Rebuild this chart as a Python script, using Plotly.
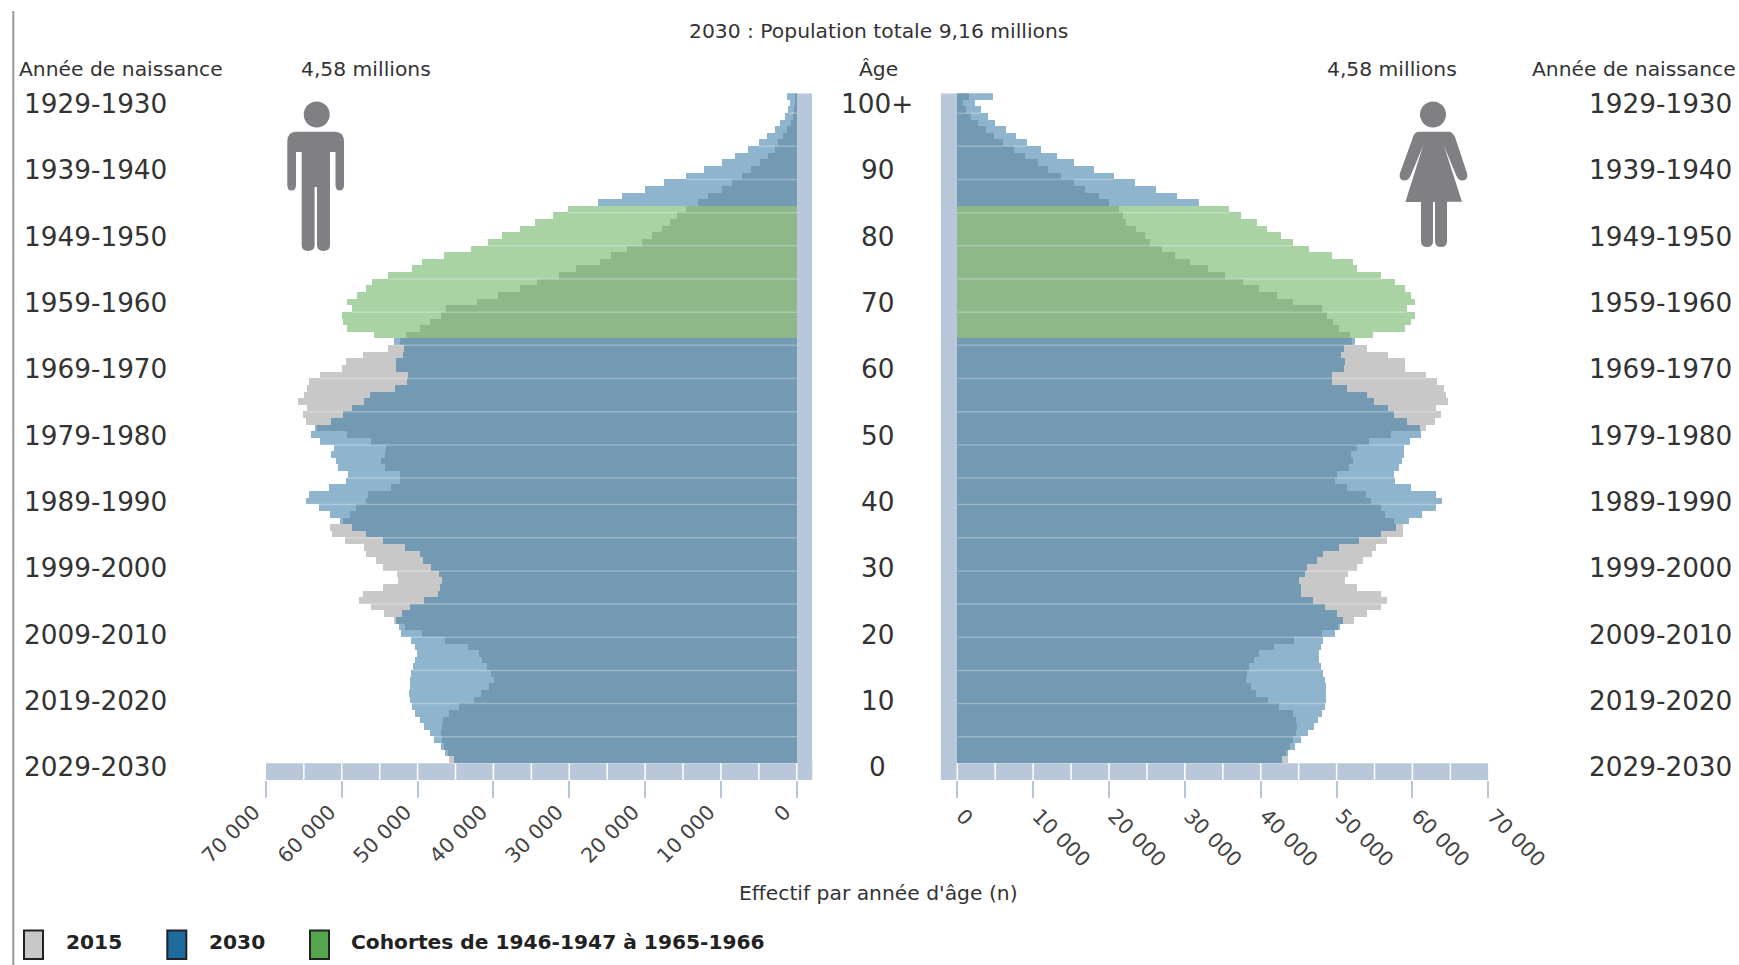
import plotly.graph_objects as go

W, H = 1739, 965

# index = position from the bottom of the pyramid (age in 2030), 0 .. 100
men_2030 = [45170, 46340, 46980, 47800, 48440, 49170, 49760, 50390, 50730, 50980,
            51120, 51070, 51020, 50830, 50630, 50340, 50050, 50390, 50880, 52200,
            52440, 52830, 52100, 51020, 49170, 47320, 47120, 46730, 47220, 48200,
            49270, 49760, 51710, 54540, 56830, 58680, 60240, 61610, 63020, 64780,
            64290, 61710, 59420, 59170, 60490, 60780, 61460, 60980, 62930, 64050,
            63560, 61370, 59900, 58680, 57070, 56240, 52980, 51370, 51220, 52830,
            52830, 51950, 51760, 53070, 55710, 59320, 59800, 60000, 58680, 59270,
            57950, 56780, 56000, 53850, 50730, 49410, 46490, 42980, 40780, 38930,
            36490, 34540, 32100, 30150, 26240, 23070, 20000, 17560, 14630, 12290,
            9900, 8200, 6490, 4980, 3900, 2930, 2240, 1610, 1120, 880, 1270]
men_2015 = [45900, 46000, 46490, 46730, 46880, 46830, 46630, 45850, 44540, 42580,
            41610, 40630, 40000, 40290, 40880, 41460, 41950, 43320, 46340, 49410,
            51610, 53170, 54440, 56150, 57710, 57220, 54630, 52590, 52680, 54630,
            55510, 56830, 57070, 59610, 61270, 61510, 59900, 58930, 58100, 56880,
            56490, 53560, 52340, 52340, 54290, 54780, 54290, 54190, 56100, 59320,
            63320, 64780, 65170, 64540, 65760, 65020, 64540, 64390, 62830, 60000,
            59510, 57170, 53950, 52340, 51510, 49660, 48440, 46980, 46240, 42240,
            39410, 36490, 34290, 31320, 29170, 26000, 24540, 22340, 20490, 19170,
            17850, 16730, 15760, 14630, 13070, 11710, 9900, 8590, 7220, 6000,
            4880, 3800, 2930, 2440, 1850, 1370, 780, 490, 390, 240, 150]
women_2030 = [42770, 43660, 44550, 45360, 46180, 47060, 47540, 48080, 48420, 48560,
              48630, 48560, 48420, 48220, 47950, 47740, 47670, 47950, 48220, 49780,
              50460, 50780, 50050, 48490, 46880, 45270, 45270, 45020, 45850, 46050,
              47370, 48190, 50290, 52970, 55900, 57850, 59610, 61270, 63070, 63850,
              63070, 59800, 57750, 57610, 58240, 58580, 58930, 58830, 59710, 61170,
              61020, 59220, 57610, 56730, 54930, 54050, 51410, 49460, 49460, 50930,
              51120, 50540, 51020, 52390, 54780, 59070, 59800, 60290, 59220, 60390,
              59800, 59070, 57710, 55900, 52730, 52100, 49410, 46390, 44190, 42730,
              40780, 39460, 37370, 35810, 31860, 28980, 26250, 23470, 20640, 18010,
              15320, 13080, 11030, 9180, 7720, 6400, 5030, 4060, 3080, 2350, 4690]
women_2015 = [43530, 43320, 43870, 44210, 44680, 44820, 44680, 44210, 42440, 40940,
              39380, 38700, 38080, 38220, 38430, 39110, 39790, 41760, 44340, 48080,
              50200, 52240, 53950, 55800, 56630, 55900, 52730, 51120, 51510, 52730,
              53460, 54680, 55170, 56630, 58730, 58730, 57610, 56390, 55900, 54540,
              53850, 51410, 49850, 50050, 51660, 52140, 51900, 52730, 54290, 57120,
              61750, 62970, 63800, 63070, 64680, 64440, 64190, 63220, 61850, 59070,
              59070, 56730, 53950, 52000, 51760, 50290, 49560, 48680, 48100, 44290,
              42100, 39810, 37610, 35320, 33080, 30690, 28690, 26980, 25420, 24690,
              23610, 22250, 21860, 21370, 20050, 18740, 16790, 15420, 13710, 12010,
              10640, 8930, 7420, 6010, 4790, 3720, 2740, 1860, 1180, 790, 1520]

cohort_first, cohort_last = 64, 83
age_labels = ["0", "10", "20", "30", "40", "50", "60", "70", "80", "90", "100+"]
age_positions = [0, 10, 20, 30, 40, 50, 60, 70, 80, 90, 100]
birth_labels = ["2029-2030", "2019-2020", "2009-2010", "1999-2000", "1989-1990", "1979-1980",
                "1969-1970", "1959-1960", "1949-1950", "1939-1940", "1929-1930"]
tick_values = [0, 10000, 20000, 30000, 40000, 50000, 60000, 70000]
tick_labels = ["0", "10 000", "20 000", "30 000", "40 000", "50 000", "60 000", "70 000"]
rule_positions = [3.5, 8.5, 13.5, 18.5, 23.5, 28.5, 33.5, 38.5, 42.5, 47.5,
                  52.5, 57.5, 62.5, 67.5, 72.5, 77.5, 82.5, 87.5, 92.5, 97.5]

GREY = "#C8C8C8"
BLUE = "rgba(31,106,158,0.5)"
GREEN = "rgba(84,165,76,0.5)"
BAND = "#B9C7DA"
ICON = "#7F7F84"
TEXT = "#333333"
FONT = "DejaVu Sans"

ages = list(range(len(men_2030)))
colours_2030 = [GREEN if cohort_first <= a <= cohort_last else BLUE for a in ages]

fig = go.Figure()
for vals15, vals30, xa, ya in [(men_2015, men_2030, "x", "y"), (women_2015, women_2030, "x2", "y2")]:
    fig.add_trace(go.Bar(x=vals15, y=ages, orientation="h", xaxis=xa, yaxis=ya, name="2015",
                         marker=dict(color=GREY, line=dict(width=0)), showlegend=False, hoverinfo="skip"))
    fig.add_trace(go.Bar(x=vals30, y=ages, orientation="h", xaxis=xa, yaxis=ya, name="2030",
                         marker=dict(color=colours_2030, line=dict(width=0)), showlegend=False, hoverinfo="skip"))

Y_TOP, Y_BOT = 93.3, 780.0
Y_RANGE = [-3.02, 100.5]
L_X0, L_X1 = 265.9, 812.4
R_X0, R_X1 = 941.0, 1488.3
L_EXT, R_EXT = -2057, -2149
axis_common = dict(tickmode="array", tickvals=tick_values, ticktext=tick_labels, showgrid=False,
                   zeroline=False, showline=False, ticks="outside", ticklen=17, tickwidth=1.5, automargin=False,
                   tickcolor=BAND, tickfont=dict(family=FONT, size=20.5, color="#444444"))
y_common = dict(range=Y_RANGE, domain=[1 - Y_BOT / H, 1 - Y_TOP / H], visible=False, showgrid=False,
                zeroline=False, automargin=False)

fig.update_layout(
    width=W, height=H, autosize=False, margin=dict(l=0, r=0, t=0, b=0, autoexpand=False),
    paper_bgcolor="white", plot_bgcolor="rgba(0,0,0,0)",
    barmode="overlay", bargap=0, showlegend=False, font=dict(family=FONT, color=TEXT),
    xaxis=dict(axis_common, domain=[L_X0 / W, L_X1 / W], range=[70000, L_EXT], tickangle=-45,
               ticklabelshift=12, ticklabelstandoff=-6),
    xaxis2=dict(axis_common, domain=[R_X0 / W, R_X1 / W], range=[R_EXT, 70000], tickangle=45,
                ticklabelshift=5, ticklabelstandoff=-2),
    yaxis=dict(y_common, anchor="x"),
    yaxis2=dict(y_common, anchor="x2"),
)

shapes = []
for xa, ya, ext in [("x", "y", L_EXT), ("x2", "y2", R_EXT)]:
    shapes.append(dict(type="rect", layer="below", xref=xa, yref=ya, x0=ext, x1=0, y0=Y_RANGE[0], y1=Y_RANGE[1],
                       fillcolor=BAND, line=dict(width=0)))
    shapes.append(dict(type="rect", layer="below", xref=xa, yref=ya, x0=ext, x1=70000, y0=Y_RANGE[0], y1=-0.5,
                       fillcolor=BAND, line=dict(width=0)))
    for v in range(0, 70000, 5000):
        shapes.append(dict(type="line", layer="below", xref=xa, yref=ya, x0=v, x1=v, y0=Y_RANGE[0], y1=-0.5,
                           line=dict(color="white", width=1.5)))

for a in rule_positions:
    i = int(a + 0.5)
    for xa, ya, s15, s30 in [("x", "y", men_2015, men_2030), ("x2", "y2", women_2015, women_2030)]:
        shapes.append(dict(type="line", layer="above", xref=xa, yref=ya, x0=0, x1=max(s15[i], s30[i]), y0=a, y1=a,
                           line=dict(color="rgba(255,255,255,0.28)", width=1.5)))


def px(x, y):
    return f"{x / W:.5f} {1 - y / H:.5f}"


def icon_path(cmds):
    out = []
    for c in cmds:
        if c == "Z":
            out.append("Z")
        elif c[0] in "ML":
            out.append(c[0] + " " + px(c[1], c[2]))
        elif c[0] == "Q":
            out.append("Q " + px(c[1], c[2]) + " " + px(c[3], c[4]))
    return " ".join(out)


man = [("M", 296, 131.7), ("Q", 287.3, 131.7, 287.3, 142), ("L", 287.3, 185), ("Q", 287.3, 190.5, 291.6, 190.5),
       ("Q", 296, 190.5, 296, 185), ("L", 296, 152), ("L", 301.7, 152), ("L", 301.7, 245), ("Q", 301.7, 251, 308, 251),
       ("Q", 314.6, 251, 314.6, 245), ("L", 314.6, 187), ("L", 317, 187), ("L", 317, 245), ("Q", 317, 251, 323.5, 251),
       ("Q", 330, 251, 330, 245), ("L", 330, 152), ("L", 335.5, 152), ("L", 335.5, 185), ("Q", 335.5, 190.5, 339.7, 190.5),
       ("Q", 344, 190.5, 344, 185), ("L", 344, 142), ("Q", 344, 131.7, 335, 131.7), "Z"]
woman = [("M", 1417.6, 131.7), ("L", 1449.8, 131.7), ("Q", 1454, 133, 1456, 140), ("L", 1467, 173), ("Q", 1468.5, 179, 1463.5, 180.5),
         ("Q", 1458.5, 181, 1456.5, 176), ("L", 1444, 146), ("L", 1462, 201.7), ("L", 1447, 201.7), ("L", 1447, 241),
         ("Q", 1447, 247, 1441, 247), ("Q", 1435, 247, 1435, 241), ("L", 1435, 202), ("L", 1433, 202), ("L", 1433, 241),
         ("Q", 1433, 247, 1427, 247), ("Q", 1421, 247, 1421, 241), ("L", 1421, 202), ("L", 1405.4, 202), ("L", 1423, 146),
         ("L", 1410.5, 176), ("Q", 1408, 181, 1403, 180.5), ("Q", 1398.5, 179, 1400, 173), ("L", 1412, 140),
         ("Q", 1413.5, 133, 1417.6, 131.7), "Z"]
shapes.append(dict(type="path", xref="paper", yref="paper", path=icon_path(man), fillcolor=ICON, line=dict(width=0)))
shapes.append(dict(type="path", xref="paper", yref="paper", path=icon_path(woman), fillcolor=ICON, line=dict(width=0)))
for cx in (316.7, 1433.0):
    shapes.append(dict(type="circle", xref="paper", yref="paper", x0=(cx - 13) / W, x1=(cx + 13) / W,
                       y0=1 - 127.5 / H, y1=1 - 101.5 / H, fillcolor=ICON, line=dict(width=0)))

# page frame line on the left
shapes.append(dict(type="line", xref="paper", yref="paper", x0=13.3 / W, x1=13.3 / W, y0=0, y1=1 - 11 / H,
                   line=dict(color="#999999", width=2)))

legend_items = [("2015", "#C8C8C8", 24, 63.5), ("2030", "#1F6A9E", 167.3, 206.5), ("Cohortes de 1946-1947 à 1965-1966", "#54A54C", 310, 349)]
annotations = []
for label, col, sx, tx in legend_items:
    shapes.append(dict(type="rect", xref="paper", yref="paper", x0=sx / W, x1=(sx + 19) / W,
                       y0=1 - 959 / H, y1=1 - 930.5 / H, fillcolor=col, line=dict(color="#222222", width=2)))
    annotations.append(dict(xref="paper", yref="paper", x=tx / W, y=1 - 942 / H, xanchor="left", yanchor="middle",
                            text=f"<b>{label}</b>", showarrow=False, font=dict(family=FONT, size=20.2, color="#222222")))

small = dict(family=FONT, size=20.3, color=TEXT)
for text, x, y, anchor in [("2030 : Population totale 9,16 millions", 878, 31, "center"),
                           ("Année de naissance", 17, 69, "left"),
                           ("4,58 millions", 366, 69, "center"),
                           ("Âge", 879, 69, "center"),
                           ("4,58 millions", 1392, 69, "center"),
                           ("Année de naissance", 1530, 69, "left"),
                           ("Effectif par année d'âge (n)", 878, 893, "center")]:
    annotations.append(dict(xref="paper", yref="paper", x=x / W, y=1 - y / H, xanchor=anchor, yanchor="middle",
                            text=text, showarrow=False, font=small))

label_offset = 1.1
big = dict(family=FONT, size=26.3, color=TEXT)
for a, al, bl in zip(age_positions, age_labels, birth_labels):
    v = a - label_offset
    annotations.append(dict(xref="paper", yref="y", x=877 / W, y=v, xanchor="center", yanchor="middle",
                            text=al, showarrow=False, font=big))
    annotations.append(dict(xref="paper", yref="y", x=22 / W, y=v, xanchor="left", yanchor="middle",
                            text=bl, showarrow=False, font=big))
    annotations.append(dict(xref="paper", yref="y", x=1587 / W, y=v, xanchor="left", yanchor="middle",
                            text=bl, showarrow=False, font=big))

fig.update_layout(shapes=shapes, annotations=annotations)
fig.write_html("out.html", config=dict(displayModeBar=False), post_script="document.body.style.margin='0';")
